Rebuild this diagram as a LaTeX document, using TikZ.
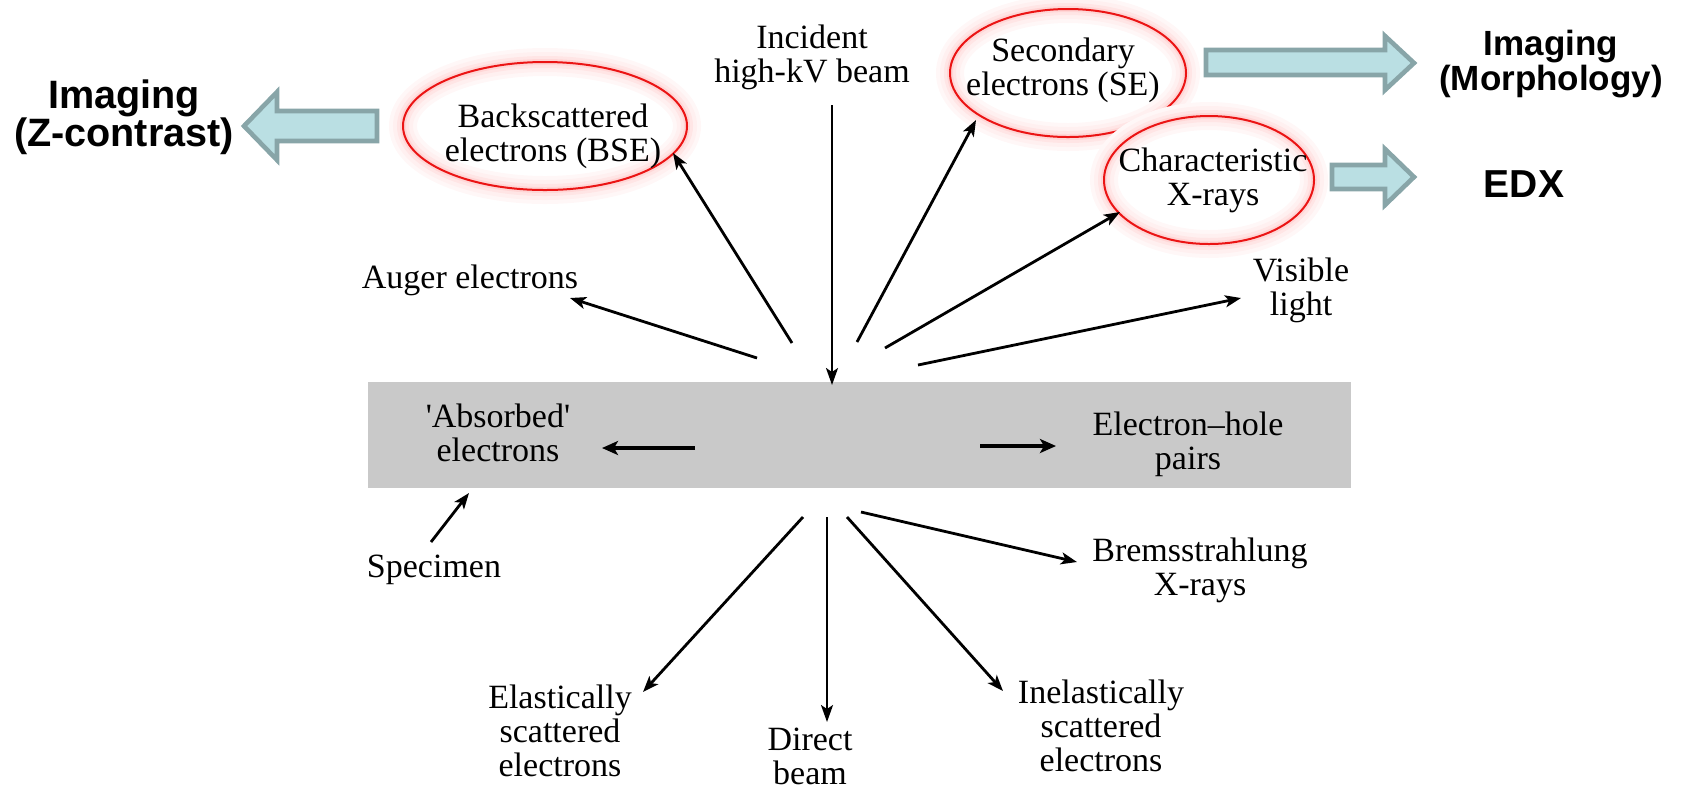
\documentclass[tikz,border=0pt]{standalone}
\usepackage{fontspec}
\setmainfont{Liberation Serif}
\newfontfamily\headfont{Liberation Sans}
\usetikzlibrary{arrows.meta,shapes.geometric}
\definecolor{bigfill}{RGB}{186,223,227}
\definecolor{bigedge}{RGB}{136,165,168}
\definecolor{barfill}{RGB}{201,201,201}
\definecolor{ringred}{RGB}{235,20,20}
\begin{document}
\begin{tikzpicture}[x=0.5pt,y=-0.5pt,
  lbl/.style={font=\fontsize{17}{17}\selectfont, align=center, inner sep=0pt,
    anchor=north, execute at begin node=\strut},
  headl/.style={font=\fontsize{19.8}{19}\headfont\bfseries, align=center,
    inner sep=0pt, anchor=north},
  headr/.style={font=\fontsize{17.5}{14}\headfont\bfseries, align=center,
    inner sep=0pt, anchor=north},
  headedx/.style={font=\fontsize{19.5}{19}\headfont\bfseries, inner sep=0pt, anchor=base},
  ring/.style={ellipse, draw=ringred, line width=1pt, inner sep=0pt,
    preaction={draw=red!3, line width=14pt},
    preaction={draw=red!6, line width=10pt},
    preaction={draw=red!10, line width=6pt},
    preaction={draw=red!16, line width=3pt}},
  barbox/.style={rectangle, fill=barfill, draw=none, inner sep=0pt},
  ray/.style={line width=1.4pt, -{Stealth[length=8pt, width=6pt, inset=2pt]}},
  thinray/.style={line width=1.1pt, -{Stealth[length=8.5pt, width=6pt, inset=2pt]}},
  thickray/.style={line width=2.1pt, -{Stealth[length=8pt, width=7pt, inset=2pt]}},
  bigarrow/.style={fill=bigfill, draw=bigedge, line width=2.3pt, line join=miter}
]
\useasboundingbox (0,0) rectangle (1684,789);

% specimen bar
\node[barbox, minimum width=491.5pt, minimum height=53pt] (bar) at (859.5,435) {};

% ellipses
\node[ring, minimum width=284pt/2, minimum height=128pt/2] (bse) at (545,126) {};
\node[ring, minimum width=236pt/2, minimum height=128pt/2] (se) at (1068,73) {};
\node[ring, minimum width=210pt/2, minimum height=128pt/2] (cxr) at (1209,180) {};

% labels
\node[lbl] (incident) at (812,24) {Incident\\high-kV beam};
\node[lbl] (bsetext) at (553,103) {Backscattered\\electrons (BSE)};
\node[lbl] (setext) at (1063,37) {Secondary\\electrons (SE)};
\node[lbl] (cxrtext) at (1213,147) {Characteristic\\X-rays};
\node[lbl] (auger) at (470,264) {Auger electrons};
\node[lbl] (visible) at (1301,257) {Visible\\light};
\node[lbl] (absorbed) at (498,403) {\textquotesingle Absorbed\textquotesingle\\electrons};
\node[lbl] (ehole) at (1188,411) {Electron--hole\\pairs};
\node[lbl] (specimen) at (434,553) {Specimen};
\node[lbl] (brems) at (1200,537) {Bremsstrahlung\\X-rays};
\node[lbl] (elastic) at (560,684) {Elastically\\scattered\\electrons};
\node[lbl] (direct) at (810,728) {Direct\\beam};
\node[lbl] (inelastic) at (1101,679) {Inelastically\\scattered\\electrons};

\node[headl] (imgz) at (124,79) {Imaging\\(Z-contrast)};
\node[headr] (imgm) at (1551,30) {Imaging\\(Morphology)};
\node[headedx] (edx) at (1524,197) {EDX};

% block arrows
\draw[bigarrow] (244,126) -- (277,92) -- (277,111) -- (377,111) -- (377,141)
  -- (277,141) -- (277,160) -- cycle;
\draw[bigarrow] (1414,63) -- (1385,36) -- (1385,50) -- (1206,50) -- (1206,75)
  -- (1385,75) -- (1385,90) -- cycle;
\draw[bigarrow] (1414,177) -- (1385,149) -- (1385,165) -- (1332,165) -- (1332,189)
  -- (1385,189) -- (1385,205) -- cycle;

% connector end points
\coordinate (inc-s) at (832,105);
\coordinate (inc-e) at (832,385);
\coordinate (bse-s) at (792,343);
\coordinate (bse-e) at (673,153);
\coordinate (aug-s) at (757,358);
\coordinate (aug-e) at (570,298);
\coordinate (se-s) at (857,342);
\coordinate (se-e) at (976,120);
\coordinate (cxr-s) at (885,348);
\coordinate (cxr-e) at (1120,212);
\coordinate (vis-s) at (918,365);
\coordinate (vis-e) at (1241,298);
\coordinate (abs-s) at (695,448);
\coordinate (abs-e) at (602,448);
\coordinate (eh-s) at (980,446);
\coordinate (eh-e) at (1056,446);
\coordinate (spc-s) at (431,542);
\coordinate (spc-e) at (469,493);
\coordinate (brm-s) at (861,512);
\coordinate (brm-e) at (1077,562);
\coordinate (ela-s) at (803,517);
\coordinate (ela-e) at (643,692);
\coordinate (dir-s) at (827,517);
\coordinate (dir-e) at (827,722);
\coordinate (ine-s) at (847,517);
\coordinate (ine-e) at (1003,691);

% connectors
\draw[thinray] (inc-s) -- (inc-e);
\draw[ray] (bse-s) -- (bse-e);
\draw[ray] (aug-s) -- (aug-e);
\draw[ray] (se-s) -- (se-e);
\draw[ray] (cxr-s) -- (cxr-e);
\draw[ray] (vis-s) -- (vis-e);
\draw[thickray] (abs-s) -- (abs-e);
\draw[thickray] (eh-s) -- (eh-e);
\draw[ray] (spc-s) -- (spc-e);
\draw[ray] (brm-s) -- (brm-e);
\draw[ray] (ela-s) -- (ela-e);
\draw[thinray] (dir-s) -- (dir-e);
\draw[ray] (ine-s) -- (ine-e);
\end{tikzpicture}
\end{document}
